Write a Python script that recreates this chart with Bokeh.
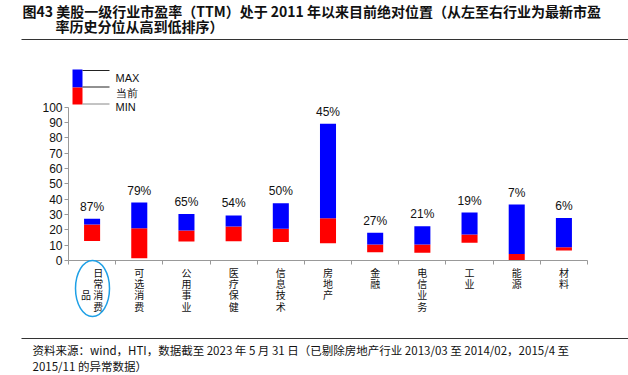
from bokeh.plotting import figure
from bokeh.models import Range1d, FixedTicker, ColumnDataSource
from bokeh.core.properties import value
from bokeh.embed import file_html
from bokeh.resources import INLINE

# ---------------- data ----------------
categories = ["日常消费品", "可选消费", "公用事业", "医疗保健", "信息技术", "房地产",
              "金融", "电信业务", "工业", "能源", "材料"]
max_vals = [27.2, 37.8, 30.4, 29.4, 37.4, 89.2, 18.1, 22.4, 31.3, 36.5, 27.8]
cur_vals = [23.5, 21.0, 19.6, 22.2, 20.7, 27.6, 10.4, 10.4, 17.0, 4.3, 8.7]
min_vals = [12.8, 1.5, 12.4, 12.6, 12.0, 11.3, 5.4, 5.0, 11.5, 0.3, 6.5]
pct_labels = ["87%", "79%", "65%", "54%", "50%", "45%", "27%", "21%", "19%", "7%", "6%"]
y_ticks = list(range(0, 101, 10))

title_line1 = "图43 美股一级行业市盈率（TTM）处于 2011 年以来目前绝对位置（从左至右行业为最新市盈"
title_line2 = "率历史分位从高到低排序）"
source_line1 = "资料来源：wind，HTI，数据截至 2023 年 5 月 31 日（已剔除房地产行业 2013/03 至 2014/02，2015/4 至"
source_line2 = "2015/11 的异常数据）"
legend_labels = ["MAX", "当前", "MIN"]

# ---------------- layout ----------------
W, H = 628, 375
FL, FR, FT, FB = 68, 587, 102, 260      # frame edges in page pixels
PX_PER_UNIT = 1.533
CJK = "Noto Sans CJK SC"
LAT = "Liberation Sans"

n = len(categories)
xs = list(range(n))
src = ColumnDataSource(dict(x=xs, mx=max_vals, cur=cur_vals, mn=min_vals, pct=pct_labels))

p = figure(width=W, height=H, output_backend="svg", toolbar_location=None,
           x_range=Range1d(-0.5, n - 0.5), y_range=Range1d(0, (FB - FT) / PX_PER_UNIT),
           min_border_left=FL, min_border_right=W - FR, min_border_top=FT,
           min_border_bottom=H - FB, outline_line_color=None)
p.grid.visible = False
p.background_fill_color = "white"
p.border_fill_color = "white"

# pixel-space ranges for decorations (title, legend, notes)
p.extra_x_ranges["px"] = Range1d(FL, FR)
p.extra_y_ranges["px"] = Range1d(FB, FT)
PX = dict(x_range_name="px", y_range_name="px", level="overlay")

# bars
p.vbar(x="x", bottom="mn", top="cur", width=0.34, source=src,
       fill_color="#FF0000", line_color=None)
p.vbar(x="x", bottom="cur", top="mx", width=0.34, source=src,
       fill_color="#0000FF", line_color=None)
p.text(x="x", y="mx", text="pct", source=src, text_align="center",
       text_baseline="bottom", y_offset=-5, text_font=value(LAT),
       text_font_size="12px", text_color="#111111")

# y axis
ya = p.yaxis[0]
ya.ticker = FixedTicker(ticks=y_ticks)
ya.bounds = (0, 100)
ya.axis_line_color = "#999999"
ya.major_tick_line_color = "#999999"
ya.major_tick_in = 0
ya.major_tick_out = 4
ya.minor_tick_line_color = None
ya.major_label_standoff = 2
ya.major_label_text_font = LAT
ya.major_label_text_font_size = "12px"
ya.major_label_text_color = "#111111"

# x axis
tick_labels = ["　 日\n　 常\n品 消\n　 费"] + ["\n".join(c) for c in categories[1:]]
xa = p.xaxis[0]
xa.ticker = FixedTicker(ticks=xs, minor_ticks=[i - 0.5 for i in range(n + 1)])
xa.bounds = (-0.5, n - 0.5)
xa.major_label_overrides = {i: t for i, t in enumerate(tick_labels)}
xa.axis_line_color = "#999999"
xa.major_tick_line_color = None
xa.major_tick_out = 0
xa.major_tick_in = 0
xa.minor_tick_line_color = "#999999"
xa.minor_tick_in = 0
xa.minor_tick_out = 4
xa.major_label_standoff = 0
xa.major_label_text_font = CJK
xa.major_label_text_font_size = "10px"
xa.major_label_text_line_height = 0.76
xa.major_label_text_color = "#111111"

# cyan ellipse around first label
p.ellipse(x=[92], y=[288], width=34, height=56, fill_alpha=0,
          line_color="#1EA0E6", line_width=1.5, **PX)

# legend
p.quad(left=[72, 72], right=[82, 82], top=[69, 87], bottom=[87, 104],
       fill_color=["#0000FF", "#FF0000"], line_color=None, **PX)
p.segment(x0=[82, 82, 82], x1=[109, 109, 109], y0=[70, 86.5, 103.5], y1=[70, 86.5, 103.5],
          line_color=["#222222", "#222222", "#888888"], line_width=1, **PX)
p.text(x=[115, 115, 115], y=[77.5, 92, 106], text=legend_labels,
       text_font=value(LAT), text_font_size="11px", text_baseline="middle",
       text_color="#111111", **PX)

# title
p.text(x=[22], y=[10], text=[title_line1], text_font=value(CJK), text_font_size="14px",
       text_font_style="bold", text_baseline="middle", text_color="#111111", **PX)
p.text(x=[55], y=[25], text=[title_line2], text_font=value(CJK), text_font_size="14px",
       text_font_style="bold", text_baseline="middle", text_color="#111111", **PX)

# rules
p.segment(x0=[21, 21], x1=[628, 628], y0=[39, 338], y1=[39, 338],
          line_color="#333333", line_width=1.2, **PX)

# source
p.text(x=[32, 32], y=[349, 365.5], text=[source_line1, source_line2],
       text_font=value(CJK), text_font_size="11.5px", text_baseline="middle",
       text_color="#111111", **PX)

open("out.html", "w").write(file_html(p, INLINE))
